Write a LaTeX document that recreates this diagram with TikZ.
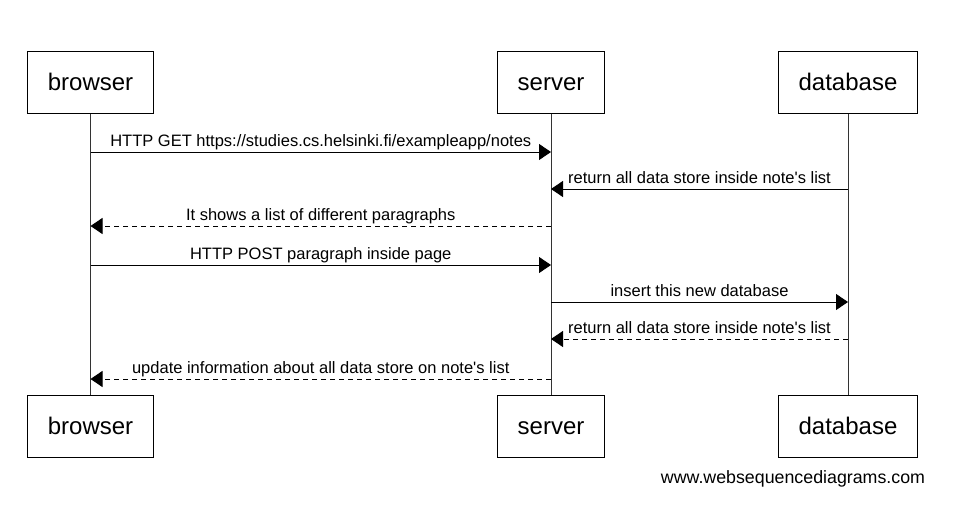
\documentclass[tikz,border=0pt]{standalone}
\usepackage{fontspec}
\setmainfont{Liberation Sans}
\usetikzlibrary{arrows.meta,positioning}

\begin{document}
\begin{tikzpicture}[x=1pt, y=-1pt, >={Triangle[length=12pt,width=16pt]},
  line width=1pt,
  actor/.style={draw, minimum height=62pt, inner xsep=20pt, text height=17.5pt,
    text depth=0pt, font=\fontsize{24}{28}\selectfont},
  lifeline/.style={draw=black!80},
  msg/.style={->},
  reply/.style={->, dash pattern=on 5pt off 4pt},
  lab/.style={anchor=base, yshift=5.5pt, font=\fontsize{16.5}{19}\selectfont}]
\useasboundingbox (0,0) rectangle (956,522);
% actors, top and bottom
\node[actor] (browser-top) at (90.5,82) {browser};
\node[actor] (server-top) at (551,82) {server};
\node[actor] (db-top) at (848,82) {database};
\node[actor, below=281pt of browser-top] (browser-bot) {browser};
\node[actor, below=281pt of server-top] (server-bot) {server};
\node[actor, below=281pt of db-top] (db-bot) {database};
\foreach \a in {browser,server,db}{
  \draw[lifeline] (\a-top) -- (\a-bot);
}
% messages
\foreach \y/\from/\to/\sty/\txt [count=\i] in {
  152/browser/server/msg/{HTTP GET https://studies.cs.helsinki.fi/exampleapp/notes},
  189/db/server/msg/{return all data store inside note\textquotesingle s list},
  226/server/browser/reply/{It shows a list of different paragraphs},
  265/browser/server/msg/{HTTP POST paragraph inside page},
  302/server/db/msg/{insert this new database},
  339/db/server/reply/{return all data store inside note\textquotesingle s list},
  379/server/browser/reply/{update information about all data store on note\textquotesingle s list}}{
  \coordinate (m\i) at (0,\y);
  \draw[\sty] (\from-top |- m\i) -- node[lab] {\txt} (\to-top |- m\i);
}
\node[font=\fontsize{17.8}{21}\selectfont] (credit) at (793,479) {www.websequencediagrams.com};
\end{tikzpicture}
\end{document}
